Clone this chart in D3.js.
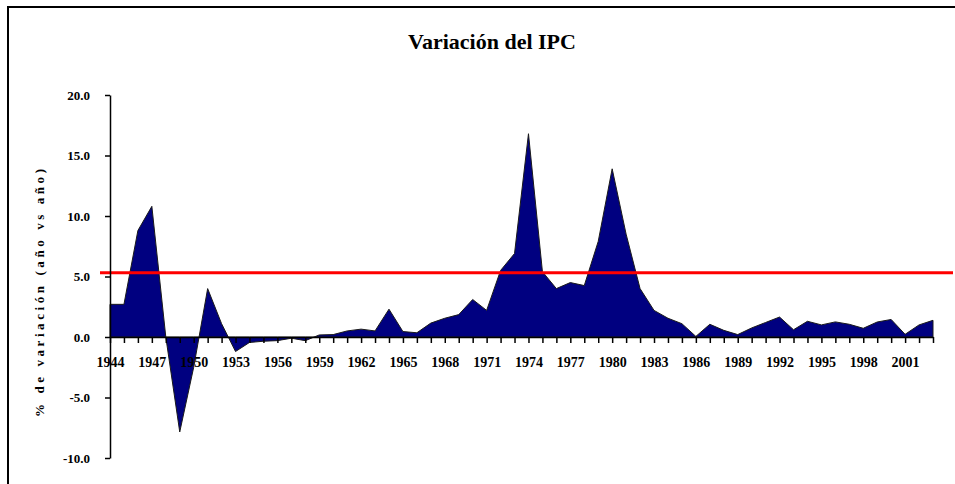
<!DOCTYPE html>
<html>
<head>
<meta charset="utf-8">
<script src="https://cdn.jsdelivr.net/npm/d3@7/dist/d3.min.js"></script>
<style>
  html, body { margin: 0; padding: 0; background: #fff; }
  svg { display: block; }
  text { font-family: "Liberation Serif", "Times New Roman", serif; font-weight: bold; fill: #000; }
</style>
</head>
<body>
<script>
// ---- data ----
const years = d3.range(1944, 2004);
const ipcValues = [
  2.7, 2.7, 8.8, 10.8, 0.0, -7.85, -2.5, 4.0, 1.1, -1.2,
  -0.45, -0.35, -0.3, -0.1, -0.3, 0.17, 0.2, 0.5, 0.65, 0.5,
  2.3, 0.45, 0.35, 1.15, 1.55, 1.85, 3.1, 2.2, 5.5, 6.9,
  16.8, 5.4, 4.0, 4.5, 4.25, 7.9, 13.9, 8.5, 4.0, 2.2,
  1.55, 1.1, 0.05, 1.05, 0.55, 0.2, 0.75, 1.2, 1.65, 0.6,
  1.3, 1.0, 1.25, 1.05, 0.72, 1.24, 1.45, 0.22, 1.0, 1.38
];
const referenceValue = [5.3];
const yTicks = [-10, -5, 0, 5, 10, 15, 20];
const labelYears = years.filter(y => (y - 1944) % 3 === 0);
const titleText = "Variación del IPC";
const yAxisTitle = "% de variación (año vs año)";

// ---- layout ----
const W = 955, H = 484;
const svg = d3.select("body").append("svg").attr("width", W).attr("height", H);

svg.append("rect").attr("x", 0).attr("y", 0).attr("width", W).attr("height", H).attr("fill", "#fff");
// chart frame (extends beyond the window on right and bottom)
svg.append("rect").attr("x", 8).attr("y", 7).attr("width", W + 20).attr("height", H + 20)
  .attr("fill", "none").attr("stroke", "#000").attr("stroke-width", 2);

const x = d3.scaleLinear().domain([1944, 2003]).range([110, 933]);
const y = d3.scaleLinear().domain([-10, 20]).range([458, 95]);

const data = years.map((yr, i) => ({ year: yr, v: ipcValues[i] }));

// area
const area = d3.area()
  .x(d => x(d.year))
  .y0(y(0))
  .y1(d => y(d.v));
svg.append("path").datum(data)
  .attr("d", area)
  .attr("fill", "#000080")
  .attr("stroke", "#1a1a1a")
  .attr("stroke-width", 1)
  .attr("stroke-linejoin", "miter");

// reference (red) line
svg.selectAll(".ref").data(referenceValue).enter().append("line")
  .attr("x1", x.range()[0] - 10).attr("x2", W - 2)
  .attr("y1", d => y(d)).attr("y2", d => y(d))
  .attr("stroke", "#ff0000").attr("stroke-width", 3);

// x axis
const xAxis = d3.axisBottom(x)
  .tickValues(years)
  .tickSize(6)
  .tickSizeOuter(0)
  .tickPadding(14)
  .tickFormat(d => labelYears.includes(d) ? String(d) : "");
const gx = svg.append("g").attr("transform", `translate(0,${y(0)})`).call(xAxis);
gx.select(".domain").attr("stroke", "#000").attr("stroke-width", 1.5);
gx.selectAll(".tick line").attr("stroke", "#000").attr("stroke-width", 1.5);
gx.selectAll(".tick text").style("font-size", "14px").style("font-family", "Liberation Serif, serif").style("font-weight", "bold");

// y axis
const yAxis = d3.axisLeft(y)
  .tickValues(yTicks)
  .tickSize(5)
  .tickSizeOuter(0)
  .tickPadding(15)
  .tickFormat(d => d.toFixed(1));
const gy = svg.append("g").attr("transform", `translate(${x.range()[0]},0)`).call(yAxis);
gy.select(".domain").attr("stroke", "#000").attr("stroke-width", 1.5);
gy.selectAll(".tick line").attr("stroke", "#000").attr("stroke-width", 1.5);
gy.selectAll(".tick text").style("font-size", "13px").style("font-family", "Liberation Serif, serif").style("font-weight", "bold");

// title
svg.append("text")
  .attr("x", 492).attr("y", 49)
  .attr("text-anchor", "middle")
  .style("font-size", "22px")
  .text(titleText);

// y axis title
svg.append("text")
  .attr("transform", "translate(44,293) rotate(-90)")
  .attr("text-anchor", "middle")
  .attr("textLength", 248)
  .attr("lengthAdjust", "spacing")
  .style("font-size", "13px")
  .text(yAxisTitle);
</script>
</body>
</html>
